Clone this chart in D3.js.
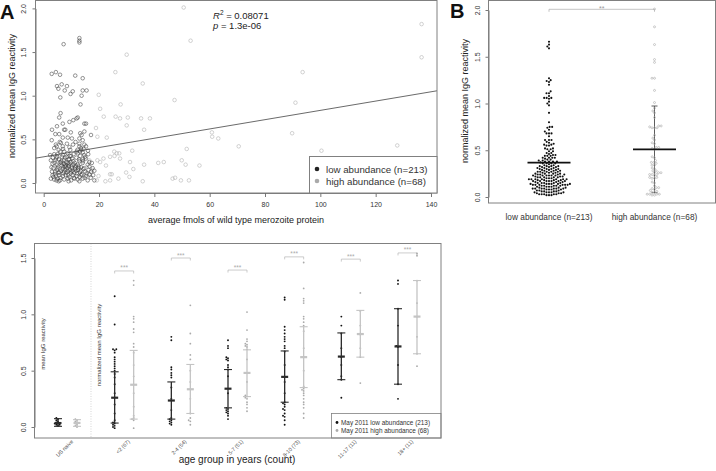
<!DOCTYPE html>
<html>
<head>
<meta charset="utf-8">
<script src="https://cdn.jsdelivr.net/npm/d3@7"></script>
<style>
body { margin: 0; background: #fff; }
svg { display: block; font-family: "Liberation Sans", Arial, sans-serif; }
</style>
</head>
<body>
<div id="fig"></div>
<script>
// ---- panel A: [fmol, normalized mean IgG] ----
var lowPoints = [
[7.2,1.59],[12.9,1.66],[12.9,1.63],[12.9,1.61],
[2.9,1.25],[4.4,1.27],[5.9,1.24],[11.4,1.23],[14.1,1.20],
[4.8,1.11],[6.5,1.13],[8.4,1.11],[5.3,1.08],[7.6,1.06],[10.5,1.05],[9.7,1.02],[14.1,1.06],[15.5,1.06],[13.7,1.00],[6.0,0.98],[13.3,0.90],
[6.1,0.80],[5.6,0.75],[9.3,0.70],[10.7,0.72],[11.9,0.74],[12.3,0.75],[15.3,0.68],[14.7,0.68],[6.9,0.68],
[3.0,0.61],[4.8,0.65],[7.4,0.61],[7.8,0.61],[9.8,0.58],[13.2,0.57],[13.7,0.55],[14.7,0.59],[17.1,0.55],[5.6,0.56],[4.2,0.56],
[6.9,0.52],[8.7,0.52],[10.2,0.51],[12.9,0.51],[14.1,0.49],[2.9,0.49],
[4.7,0.42],[6.2,0.46],[6.9,0.42],[9.3,0.41],[12.9,0.42],[13.5,0.40],[14.7,0.44],[15.3,0.42],[3.8,0.40],
[5.4,0.38],[7.4,0.36],[11.9,0.36],[12.3,0.34],[13.1,0.36],[14.1,0.35],
[2.3,0.32],[3.8,0.33],[4.8,0.30],[6.6,0.30],[8.3,0.30],[9.9,0.31],[15.0,0.30],[16.1,0.33],
[2.6,0.26],[4.2,0.26],[5.9,0.24],[7.4,0.26],[9.3,0.27],[10.7,0.25],[12.9,0.25],[14.1,0.27],[16.5,0.24],
[3.2,0.22],[4.7,0.21],[6.3,0.23],[7.8,0.21],[8.7,0.23],[9.3,0.22],[10.8,0.21],[12.3,0.21],[14.1,0.23],[15.9,0.21],[17.4,0.23],
[3.5,0.17],[5.0,0.17],[6.9,0.18],[8.0,0.19],[9.0,0.19],[10.2,0.17],[11.4,0.18],[12.6,0.17],[13.5,0.18],[14.7,0.17],[16.5,0.19],[17.7,0.17],
[3.0,0.13],[4.2,0.13],[5.4,0.12],[6.2,0.14],[7.4,0.13],[8.7,0.14],[9.9,0.13],[11.1,0.12],[11.7,0.14],[13.1,0.12],[15.0,0.13],[17.1,0.13],[18.3,0.14],
[3.2,0.09],[4.5,0.08],[5.6,0.09],[6.9,0.08],[8.0,0.09],[9.3,0.07],[10.5,0.09],[11.9,0.08],[13.5,0.09],[15.3,0.08],[16.5,0.10],[17.9,0.09],
[2.6,0.05],[3.8,0.04],[5.0,0.05],[5.9,0.03],[7.4,0.04],[8.7,0.05],[9.9,0.03],[11.1,0.05],[12.3,0.04],[14.1,0.05],[15.9,0.03],[18.3,0.03],
[5.4,0.02],[9.0,0.02],[12.9,0.02],
[3.5,0.07],[4.1,0.10],[4.8,0.15],[5.2,0.19],[5.7,0.12],[6.1,0.06],[6.5,0.20],[6.8,0.16],[7.1,0.11],[7.6,0.19],
[7.9,0.15],[8.2,0.12],[8.5,0.17],[8.8,0.09],[9.1,0.20],[9.5,0.15],[9.8,0.11],[10.1,0.19],[10.4,0.14],[10.9,0.06],
[11.3,0.16],[11.6,0.20],[12.0,0.11],[12.4,0.15],[12.7,0.19],[13.0,0.07],[13.4,0.14],[13.8,0.10],[14.3,0.16],[14.8,0.06],
[15.5,0.11],[16.2,0.15],[17.0,0.06],
[3.9,0.23],[4.5,0.28],[5.0,0.33],[5.5,0.27],[6.0,0.36],[6.4,0.25],[6.9,0.32],[7.3,0.22],[7.7,0.29],[8.1,0.24],
[8.6,0.34],[9.0,0.27],[9.4,0.31],[9.7,0.24],[10.3,0.28],[10.8,0.33],[11.2,0.23],[11.8,0.29],[12.2,0.38],[12.8,0.27],
[13.2,0.31],[13.6,0.38],[14.2,0.25],[14.6,0.32],[15.2,0.28],[16.0,0.37],
[2.8,0.18],[3.3,0.29],[4.4,0.44],[5.8,0.47],[7.0,0.39],[8.4,0.45],[9.6,0.38],[10.6,0.44],[11.5,0.47],[12.9,0.45],
[14.4,0.39],[4.6,0.03]
];
var highPoints = [
[50.6,2.01],[53.1,1.63],[136.6,1.82],[136.6,1.44],[30.0,1.47],[35.8,1.14],[25.9,1.27],[93.6,1.27],[91.0,0.92],[47.3,0.95],
[19.9,1.01],[27.8,0.90],[20.4,0.85],[21.7,0.76],[26.0,0.76],[27.6,0.74],[30.4,0.75],[35.2,0.74],[38.4,0.74],[30.0,0.66],
[18.9,0.63],[36.3,0.61],[89.8,0.57],[60.8,0.58],[60.9,0.53],[63.1,0.51],[22.8,0.52],[19.4,0.53],[70.5,0.42],[127.8,0.43],
[100.4,0.37],[51.7,0.39],[32.0,0.37],[25.5,0.36],[26.4,0.34],[27.3,0.34],[25.6,0.31],[24.0,0.30],[21.6,0.28],[19.4,0.26],
[20.4,0.24],[16.5,0.26],[27.6,0.28],[49.9,0.26],[43.4,0.24],[41.4,0.23],[31.2,0.24],[36.3,0.21],[51.3,0.21],[56.3,0.20],
[22.5,0.20],[32.4,0.16],[24.0,0.10],[24.6,0.10],[29.8,0.12],[31.0,0.07],[19.8,0.08],[47.5,0.06],[46.6,0.05],[49.6,0.03],
[52.5,0.03],[35.8,0.02],[22.3,0.02],[24.0,0.03],[27.0,0.05],[19.2,0.03],[16.7,0.09],[17.5,0.15]
];
var fmolTicks = [0, 20, 40, 60, 80, 100, 120, 140];
var iggTicksAB = [0, 0.5, 1, 1.5, 2];
var regIntercept = 0.30, regSlope = 0.00532;
var legendA = ["low abundance (n=213)", "high abundance (n=68)"];

// ---- panel B ----
var bCats = ["low abundance (n=213)", "high abundance (n=68)"];
var bMeans = [0.367, 0.51];
var bHighSd = [0.046, 0.973];

// ---- panel C ----
var cGroups = ["US naive", "<2 (67)", "2-4 (54)", "5-7 (51)", "8-10 (73)", "11-17 (11)", "18+ (11)"];
var cLowPts = [
[0.01,0.02,0.02,0.03,0.03,0.04,0.05,0.06,0.07,0.08],
[1.16,0.91,0.69,0.69,0.68,0.66,0.62,0.60,0.58,0.56,0.54,0.52,0.50,0.47,0.44,0.38,0.30,0.20,0.12,0.06,0.04,0.03,0.02,0.01,0.00,-0.01],
[0.80,0.77,0.53,0.51,0.48,0.46,0.44,0.35,0.25,0.15,0.08,0.07,0.06,0.05,0.04,0.03,0.02],
[0.77,0.72,0.70,0.62,0.61,0.60,0.59,0.55,0.53,0.51,0.45,0.30,0.17,0.16,0.15,0.14,0.13,0.12,0.10,0.07],
[1.15,1.13,0.89,0.86,0.83,0.80,0.78,0.76,0.72,0.70,0.67,0.55,0.40,0.30,0.22,0.21,0.20,0.18,0.16,0.15,0.12,0.10,0.09,0.06,0.02],
[0.98,0.90,0.83,0.70,0.62,0.55,0.45,0.42,0.26],
[1.30,1.27,1.05,0.90,0.72,0.71,0.55,0.38,0.25]
];
var cHighPts = [
[0.00,0.01,0.02,0.03,0.04,0.05,0.06,0.07],
[1.30,1.26,0.98,0.96,0.93,0.87,0.84,0.74,0.71,0.66,0.55,0.45,0.30,0.18,0.10,0.08,0.07,0.06,-0.01],
[1.08,0.83,0.74,0.64,0.60,0.50,0.40,0.25,0.12,0.08,0.06,0.05,0.02],
[1.02,0.86,0.78,0.76,0.74,0.73,0.72,0.71,0.69,0.60,0.40,0.28,0.27,0.26,0.25,0.22,0.20,0.17,0.14],
[1.46,1.23,1.14,1.12,1.10,0.98,0.96,0.93,0.90,0.85,0.70,0.50,0.36,0.34,0.33,0.32,0.30,0.28,0.25,0.22,0.20,0.17,0.12,0.08],
[1.19,1.03,0.90,0.82,0.70,0.62,0.39],
[1.54,1.52,1.30,1.10,0.98,0.80,0.65,0.54]
];
// [lower, median, upper]
var cLowStats = [[0.006,0.035,0.074],[0.035,0.26,0.49],[0.07,0.235,0.40],[0.17,0.34,0.51],[0.22,0.445,0.675],[0.42,0.625,0.835],[0.38,0.715,1.05]];
var cHighStats = [[0.006,0.036,0.065],[0.07,0.375,0.68],[0.12,0.335,0.555],[0.27,0.48,0.685],[0.35,0.62,0.89],[0.62,0.825,1.035],[0.65,0.98,1.30]];
var cSigLevel = [null, 1.385, 1.50, 1.393, 1.51, 1.49, 1.545];
var cTicks = [0, 0.5, 1, 1.5];
var legendC = ["May 2011 low abundance (213)", "May 2011 high abundance (68)"];

var DARK = "#222", GREY = "#b4b4b4", BOX = "#808080";

var svg = d3.select("#fig").append("svg").attr("width", 716).attr("height", 471);

// beeswarm offsets: places points bottom-up as close to the centre as possible
function swarm(vals, y, r) {
	var pts = vals.map(function (v) { return { v: v, y: y(v), dx: 0 }; });
	pts.sort(function (a, b) { return b.y - a.y; });
	var placed = [], d = 2 * r;
	pts.forEach(function (p) {
		var blocks = [];
		placed.forEach(function (q) {
			var dy = Math.abs(q.y - p.y);
			if (dy < d) {
				var w = Math.sqrt(d * d - dy * dy);
				blocks.push([q.dx - w, q.dx + w]);
			}
		});
		var cands = [0];
		blocks.forEach(function (b) { cands.push(b[0], b[1]); });
		cands.sort(function (a, b) { return Math.abs(a) - Math.abs(b); });
		for (var k = 0; k < cands.length; k++) {
			var c = cands[k];
			var ok = blocks.every(function (b) { return c <= b[0] + 1e-6 || c >= b[1] - 1e-6; });
			if (ok) { p.dx = c; break; }
		}
		placed.push(p);
	});
	return pts;
}

function styleAxis(g, size) {
	g.selectAll("path, line").attr("stroke", "#555").attr("stroke-width", 0.8);
	g.selectAll("text").attr("font-size", size).attr("fill", "#333").attr("font-family", null);
}

// rotate y tick labels like R's default (parallel to axis)
function rotateY(g, off) {
	g.selectAll(".tick text")
		.attr("x", null).attr("dy", null)
		.attr("text-anchor", "middle")
		.attr("transform", "rotate(-90)")
		.attr("y", -off);
}

function panelLetter(t, x, y, size) {
	svg.append("text").attr("x", x).attr("y", y).attr("font-size", size)
		.attr("font-weight", "bold").attr("fill", "#111").text(t);
}

// ================= A =================
var xA = d3.scaleLinear().domain([0, 140]).range([43.7, 431]);
var yA = d3.scaleLinear().domain([0, 2]).range([183, 8.4]);
var A = svg.append("g");

A.append("clipPath").attr("id", "clipA").append("rect")
	.attr("x", 35.5).attr("y", 0.5).attr("width", 401.5).attr("height", 192.5);

var gxA = A.append("g").attr("transform", "translate(0,193)")
	.call(d3.axisBottom(xA).tickValues(fmolTicks).tickSize(4).tickSizeOuter(0).tickPadding(5).tickFormat(d3.format("d")));
styleAxis(gxA, 7);
var gyA = A.append("g").attr("transform", "translate(35.5,0)")
	.call(d3.axisLeft(yA).tickValues(iggTicksAB).tickSize(3).tickSizeOuter(0).tickFormat(d3.format(".1f")));
styleAxis(gyA, 7);
rotateY(gyA, 10);

var plotA = A.append("g").attr("clip-path", "url(#clipA)");
plotA.selectAll("circle.hi").data(highPoints).enter().append("circle")
	.attr("cx", function (d) { return xA(d[0]); })
	.attr("cy", function (d) { return yA(d[1]); })
	.attr("r", 1.8).attr("fill", "none").attr("stroke", GREY).attr("stroke-width", 0.6);
plotA.selectAll("circle.lo").data(lowPoints).enter().append("circle")
	.attr("cx", function (d) { return xA(d[0]); })
	.attr("cy", function (d) { return yA(d[1]); })
	.attr("r", 1.8).attr("fill", "none").attr("stroke", "#3c3c3c").attr("stroke-width", 0.55);

var x0 = xA.invert(35.5), x1 = xA.invert(437);
plotA.append("line")
	.attr("x1", xA(x0)).attr("y1", yA(regIntercept + regSlope * x0))
	.attr("x2", xA(x1)).attr("y2", yA(regIntercept + regSlope * x1))
	.attr("stroke", "#444").attr("stroke-width", 0.8);

A.append("rect").attr("x", 35.5).attr("y", 0.5).attr("width", 401.5).attr("height", 192.5)
	.attr("fill", "none").attr("stroke", BOX).attr("stroke-width", 1);

// legend
var lgA = A.append("g");
lgA.append("rect").attr("x", 309.5).attr("y", 156.5).attr("width", 127.5).attr("height", 36.5)
	.attr("fill", "#fff").attr("stroke", BOX).attr("stroke-width", 1);
legendA.forEach(function (t, i) {
	lgA.append("circle").attr("cx", 317).attr("cy", 169 + i * 12).attr("r", 2.3)
		.attr("fill", i === 0 ? DARK : "#aaa");
	lgA.append("text").attr("x", 326).attr("y", 172.5 + i * 12).attr("font-size", 9.7)
		.attr("fill", "#333").text(t);
});

// R^2 / p annotation
var stat = A.append("text").attr("x", 213).attr("y", 18.5).attr("font-size", 9.5).attr("fill", "#222");
stat.append("tspan").attr("font-style", "italic").text("R");
stat.append("tspan").attr("font-size", 6.5).attr("dy", -4).text("2");
stat.append("tspan").attr("dy", 4).text(" = 0.08071");
var stat2 = A.append("text").attr("x", 213).attr("y", 29).attr("font-size", 9.5).attr("fill", "#222");
stat2.append("tspan").attr("font-style", "italic").text("p");
stat2.append("tspan").text(" = 1.3e-06");

A.append("text").attr("x", 236).attr("y", 222.5).attr("text-anchor", "middle")
	.attr("font-size", 9).attr("fill", "#222").text("average fmols of wild type merozoite protein");
A.append("text").attr("transform", "translate(15,96) rotate(-90)").attr("text-anchor", "middle")
	.attr("font-size", 9).attr("fill", "#222").text("normalized mean IgG reactivity");
panelLetter("A", 0, 18.5, 20);

// ================= B =================
var yB = d3.scaleLinear().domain([0, 2]).range([197, 10]);
var xB = d3.scalePoint().domain(bCats).range([549, 654.5]);
var B = svg.append("g");

var gyB = B.append("g").attr("transform", "translate(488.5,0)")
	.call(d3.axisLeft(yB).tickValues(iggTicksAB).tickSize(3).tickSizeOuter(0).tickFormat(d3.format(".1f")));
styleAxis(gyB, 7);
rotateY(gyB, 9);

// high abundance SD bar (under the points)
var hx = xB(bCats[1]);
B.append("line").attr("x1", hx).attr("x2", hx).attr("y1", yB(bHighSd[0])).attr("y2", yB(bHighSd[1]))
	.attr("stroke", "#333").attr("stroke-width", 0.8);
bHighSd.forEach(function (v) {
	B.append("line").attr("x1", hx - 3).attr("x2", hx + 3).attr("y1", yB(v)).attr("y2", yB(v))
		.attr("stroke", "#333").attr("stroke-width", 0.8);
});

var lowIgG = lowPoints.map(function (d) { return d[1]; });
var highIgG = highPoints.map(function (d) { return d[1]; });
B.selectAll("circle.bl").data(swarm(lowIgG, yB, 1.25)).enter().append("circle")
	.attr("cx", function (d) { return xB(bCats[0]) + d.dx; })
	.attr("cy", function (d) { return d.y; })
	.attr("r", 1.05).attr("fill", "#111");
B.selectAll("circle.bh").data(swarm(highIgG, yB, 1.25)).enter().append("circle")
	.attr("cx", function (d) { return hx + d.dx; })
	.attr("cy", function (d) { return d.y; })
	.attr("r", 1.0).attr("fill", "none").attr("stroke", "#aaa").attr("stroke-width", 0.6);

bMeans.forEach(function (m, i) {
	var cx = xB(bCats[i]);
	B.append("line").attr("x1", cx - 21.5).attr("x2", cx + 21.5).attr("y1", yB(m)).attr("y2", yB(m))
		.attr("stroke", "#111").attr("stroke-width", 1.8);
});

// significance bracket
var bx0 = xB(bCats[0]), bx1 = xB(bCats[1]);
B.append("path").attr("d", "M" + bx0 + ",11.8V9.3H" + bx1 + "V11.8")
	.attr("fill", "none").attr("stroke", "#aaa").attr("stroke-width", 0.7);
B.append("text").attr("x", (bx0 + bx1) / 2).attr("y", 10.5).attr("text-anchor", "middle")
	.attr("font-size", 7).attr("fill", "#999").text("**");

B.append("rect").attr("x", 488.5).attr("y", 0.5).attr("width", 227).attr("height", 202.5)
	.attr("fill", "none").attr("stroke", BOX).attr("stroke-width", 1);
bCats.forEach(function (c) {
	B.append("text").attr("x", xB(c)).attr("y", 219.5).attr("text-anchor", "middle")
		.attr("font-size", 8.3).attr("fill", "#333").text(c);
});
B.append("text").attr("transform", "translate(468,101) rotate(-90)").attr("text-anchor", "middle")
	.attr("font-size", 9).attr("fill", "#222").text("normalized mean IgG reactivity");
panelLetter("B", 450, 17.5, 20);

// ================= C =================
var yC = d3.scaleLinear().domain([0, 1.5]).range([427, 258]);
var xC = d3.scalePoint().domain(cGroups).range([67.5, 407.5]);
var off = 9.5;
var C = svg.append("g");

var gyC = C.append("g").attr("transform", "translate(34.5,0)")
	.call(d3.axisLeft(yC).tickValues(cTicks).tickSize(3).tickSizeOuter(0).tickFormat(d3.format(".1f")));
styleAxis(gyC, 7);
rotateY(gyC, 9);

C.append("line").attr("x1", 91).attr("x2", 91).attr("y1", 243.5).attr("y2", 438)
	.attr("stroke", "#bbb").attr("stroke-width", 0.6).attr("stroke-dasharray", "1,1.5");

function errBar(cx, s, col) {
	C.append("line").attr("x1", cx).attr("x2", cx).attr("y1", yC(s[0])).attr("y2", yC(s[2]))
		.attr("stroke", col).attr("stroke-width", 1.3);
	[s[0], s[2]].forEach(function (v) {
		C.append("line").attr("x1", cx - 4).attr("x2", cx + 4).attr("y1", yC(v)).attr("y2", yC(v))
			.attr("stroke", col).attr("stroke-width", 1.1);
	});
	C.append("line").attr("x1", cx - 3.5).attr("x2", cx + 3.5).attr("y1", yC(s[1])).attr("y2", yC(s[1]))
		.attr("stroke", col).attr("stroke-width", 2.2);
}

cGroups.forEach(function (g, i) {
	var cx = xC(g);
	C.selectAll(null).data(swarm(cHighPts[i], yC, 1.0)).enter().append("circle")
		.attr("cx", function (d) { return cx + off + d.dx; })
		.attr("cy", function (d) { return d.y; })
		.attr("r", 0.9).attr("fill", "#aaa");
	C.selectAll(null).data(swarm(cLowPts[i], yC, 1.0)).enter().append("circle")
		.attr("cx", function (d) { return cx - off + d.dx; })
		.attr("cy", function (d) { return d.y; })
		.attr("r", 0.95).attr("fill", "#111");
	errBar(cx + off, cHighStats[i], "#c4c4c4");
	errBar(cx - off, cLowStats[i], "#2a2a2a");
	if (cSigLevel[i] !== null) {
		var sy = yC(cSigLevel[i]);
		C.append("path").attr("d", "M" + (cx - off) + "," + (sy + 2.5) + "V" + sy + "H" + (cx + off) + "V" + (sy + 2.5))
			.attr("fill", "none").attr("stroke", "#aaa").attr("stroke-width", 0.6);
		C.append("text").attr("x", cx).attr("y", sy - 0.5).attr("text-anchor", "middle")
			.attr("font-size", 6.5).attr("fill", "#aaa").text("***");
	}
	C.append("text").attr("transform", "translate(" + (cx + 6) + ",442) rotate(-45)")
		.attr("text-anchor", "end").attr("font-size", 5.3).attr("fill", "#444").text(g);
});

// legend
var lgC = C.append("g");
lgC.append("rect").attr("x", 331.5).attr("y", 413.5).attr("width", 109.5).attr("height", 24.5)
	.attr("fill", "#fff").attr("stroke", BOX).attr("stroke-width", 0.8);
legendC.forEach(function (t, i) {
	lgC.append("circle").attr("cx", 337).attr("cy", 422.5 + i * 8).attr("r", 1.4)
		.attr("fill", i === 0 ? "#111" : "#aaa");
	lgC.append("text").attr("x", 341).attr("y", 424.8 + i * 8).attr("font-size", 6.4)
		.attr("fill", "#333").text(t);
});

C.append("rect").attr("x", 34.5).attr("y", 243.5).attr("width", 406.5).attr("height", 194.5)
	.attr("fill", "none").attr("stroke", BOX).attr("stroke-width", 1);

C.append("text").attr("transform", "translate(44.5,344) rotate(-90)").attr("text-anchor", "middle")
	.attr("font-size", 6).attr("fill", "#333").text("mean IgG reactivity");
C.append("text").attr("transform", "translate(100.5,345) rotate(-90)").attr("text-anchor", "middle")
	.attr("font-size", 6).attr("fill", "#333").text("normalized mean IgG reactivity");
C.append("text").attr("x", 237).attr("y", 462.5).attr("text-anchor", "middle")
	.attr("font-size", 10).attr("fill", "#222").text("age group in years (count)");
panelLetter("C", 0, 245, 19);
</script>
</body>
</html>
